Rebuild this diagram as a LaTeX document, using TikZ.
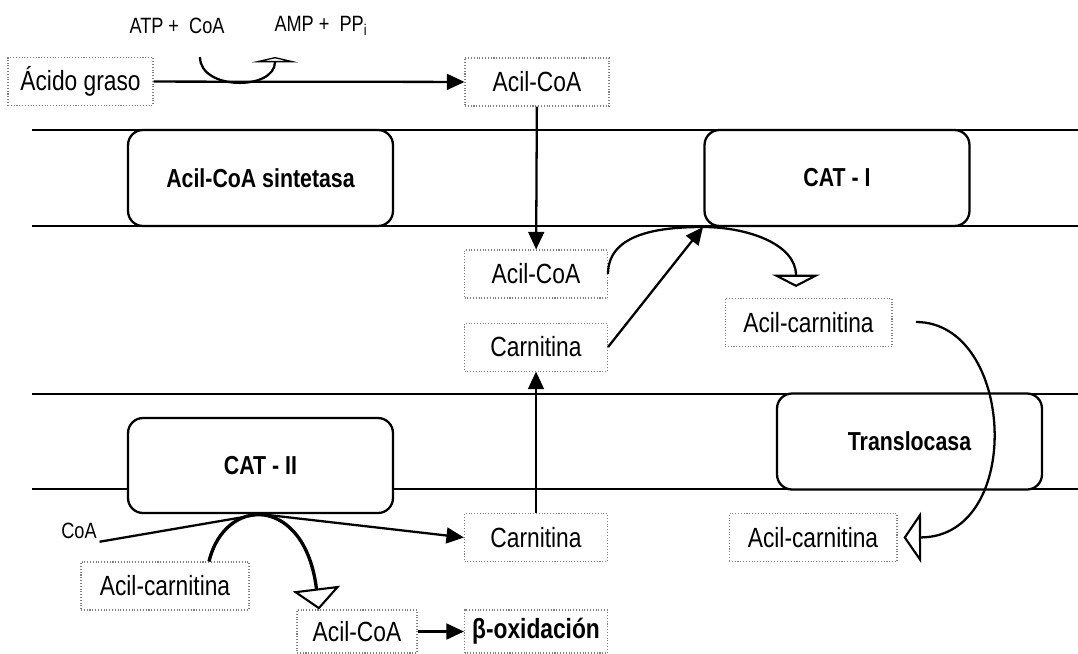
\documentclass[tikz,border=0pt]{standalone}
\usepackage{fontspec}
\setmainfont{Liberation Sans}[FakeStretch=0.82]
\usetikzlibrary{arrows.meta, positioning}

\begin{document}
\begin{tikzpicture}[x=0.02cm, y=-0.02cm, line width=1.3pt,
    mol/.style = {draw=gray, densely dotted, line width=0.6pt, minimum height=0.96cm, inner sep=0pt, font=\fontsize{15.8}{18}\selectfont},
    enz/.style = {draw, line width=1.3pt, rounded corners=0.3cm, fill=white, minimum width=5.3cm, minimum height=1.92cm, font=\bfseries\fontsize{14.8}{17}\selectfont},
    small/.style = {inner sep=1pt, font=\fontsize{12.6}{15}\selectfont},
    arr/.style = {-{Triangle[length=10pt, width=9pt]}},
    hollow/.style args = {#1/#2}{-{Triangle[open, fill=white, line width=1.2pt, length=#1, width=#2]}}]
    \useasboundingbox (0,0) rectangle (1078,653);

    % membranas
    \draw (32,130) -- (1078,130);
    \draw (32,226) -- (1078,226);
    \draw (32,394) -- (1078,394);
    \draw (32,489) -- (1078,489);

    % enzimas
    \node[enz] (sint) at (260.5,178) {Acil-CoA sintetasa};
    \node[enz] (cat1) at (837,178) {CAT - I};
    \node[enz] (transl) at (909.5,441.5) {Translocasa};
    \node[enz, minimum height=1.9cm] (cat2) at (260.5,465.5) {CAT - II};

    % metabolitos
    \node[mol, minimum width=2.9cm] (acido) at (80.5,81.5) {Ácido graso};
    \node[mol, minimum width=2.88cm] (acoa1) at (537,82) {Acil-CoA};
    \node[mol, minimum width=2.86cm] (acoa2) at (536,274) {Acil-CoA};
    \node[mol, minimum width=2.86cm, below=0.48cm of acoa2] (carn1) {Carnitina};
    \node[mol, minimum width=3.34cm] (acarn1) at (808.5,322.5) {Acil-carnitina};
    \node[mol, minimum width=2.86cm] (carn2) at (536,537.5) {Carnitina};
    \node[mol, minimum width=3.36cm] (acarn2) at (813,537.5) {Acil-carnitina};
    \node[mol, minimum width=3.36cm] (acarn3) at (165,586) {Acil-carnitina};
    \node[mol, minimum width=2.4cm, minimum height=0.86cm] (acoa3) at (357,631.5) {Acil-CoA};
    \node[mol, minimum width=2.86cm, minimum height=0.86cm] (beta) at (536,631.5) {\bfseries β-oxidación};

    \node[small] (atp) at (177,26) {ATP +~ CoA};
    \node[small] (amp) at (321,26) {AMP +~ PP\textsubscript{i}};
    \node[small] (coa) at (79,531) {CoA};

    \coordinate (c1) at (200,57);
    \coordinate (c2) at (275,57);
    \coordinate (j1) at (703,227);
    \coordinate (o1) at (796,287);
    \coordinate (r1) at (916,322);

    % flechas
    \draw[arr] (acido) -- (acoa1);
    \draw[hollow=3pt/26pt] (c1) to[out=-90, in=-90, looseness=1.15] (c2);
    \draw[arr] (acoa1) -- (acoa2);
    \draw[arr] (carn1.east) -- (j1);
    \draw[hollow=7pt/27pt] (acoa2.east) to[out=90, in=180] (j1) to[out=0, in=90] (o1);
    \draw[hollow=10pt/29pt] (r1) .. controls (1015,322) and (1025,537) .. ([xshift=0.12cm]acarn2.east);
    \draw[arr] (carn2) -- (carn1);
    \draw (coa.south east) -- (cat2.south);
    \draw[arr] (cat2.south) -- (carn2.west);
    \draw[hollow=12pt/27pt, line width=1.9pt] ([xshift=0.88cm]acarn3.north) .. controls (225,495) and (305,495) .. ([xshift=-0.76cm]acoa3.north);
    \draw[arr] (acoa3) -- (beta);
\end{tikzpicture}
\end{document}
